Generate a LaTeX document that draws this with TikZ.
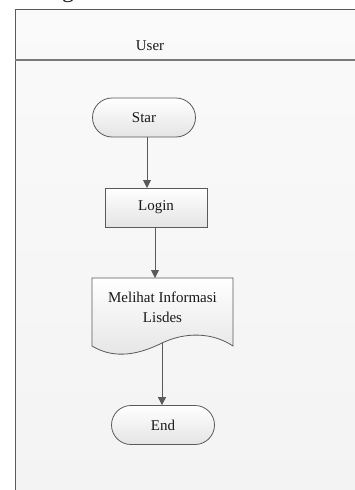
\documentclass[tikz,border=0pt]{standalone}
\usepackage{fontspec}
\setmainfont{Liberation Serif}
\usetikzlibrary{arrows.meta,shapes.misc}
\definecolor{lineg}{HTML}{5A5A5A}
\definecolor{lanebg}{HTML}{F3F3F3}
\definecolor{laneTop}{HTML}{FAFAFA}
\definecolor{shapeBot}{HTML}{E4E4E4}
\tikzset{
  every node/.style={font=\fontsize{15}{20}\selectfont, text=black!90},
  term/.style={rounded rectangle, draw=lineg, line width=0.8pt,
    top color=white, bottom color=shapeBot, minimum width=103pt, minimum height=39pt, inner sep=0pt},
  procbox/.style={rectangle, draw=lineg, line width=0.8pt,
    top color=white, bottom color=shapeBot, minimum width=102pt, minimum height=39pt, inner sep=0pt},
  flow/.style={draw=lineg, line width=0.9pt, -{Triangle[length=8pt,width=8pt]}},
}
\begin{document}
\begin{tikzpicture}[x=1pt,y=-1pt]
  \useasboundingbox (0,0) rectangle (355,490);
  % swimlane
  \fill[top color=laneTop, bottom color=lanebg] (15,9) rectangle (360,495);
  \draw[lineg, line width=0.9pt] (360,9) -- (15,9) -- (15,495);
  \draw[lineg!80, line width=1.2pt] (15,60) -- (360,60);
  \node (lane) at (150,46) {User};
  % heading fragment above the lane
  \node[anchor=base, font=\fontsize{24}{26}\selectfont] (head) at (68,-2.5) {g};

  % shapes
  \node[term] (star) at (144,117.5) {Star};
  \node[procbox] (login) at (156,207.5) {Login};

  % document shape with wavy bottom
  \draw[lineg, line width=0.8pt, top color=white, bottom color=shapeBot]
    (92,278) -- (233,278) -- (233,346)
    .. controls (212,332) and (185,332) .. (162,343)
    .. controls (140,354) and (115,360) .. (92,346) -- cycle;
  \node[align=center, inner sep=0pt] (doc) at (162.5,307) {Melihat Informasi\\Lisdes};
  \coordinate (docTop) at (155,278);
  \coordinate (docBot) at (162,343);

  \node[term] (endn) at (163,425) {End};

  % connectors
  \draw[flow] (star.south -| 147,0) -- (147,188);
  \draw[flow] (login.south -| docTop) -- (docTop);
  \draw[flow] (docBot) -- (endn.north -| docBot);
\end{tikzpicture}
\end{document}
